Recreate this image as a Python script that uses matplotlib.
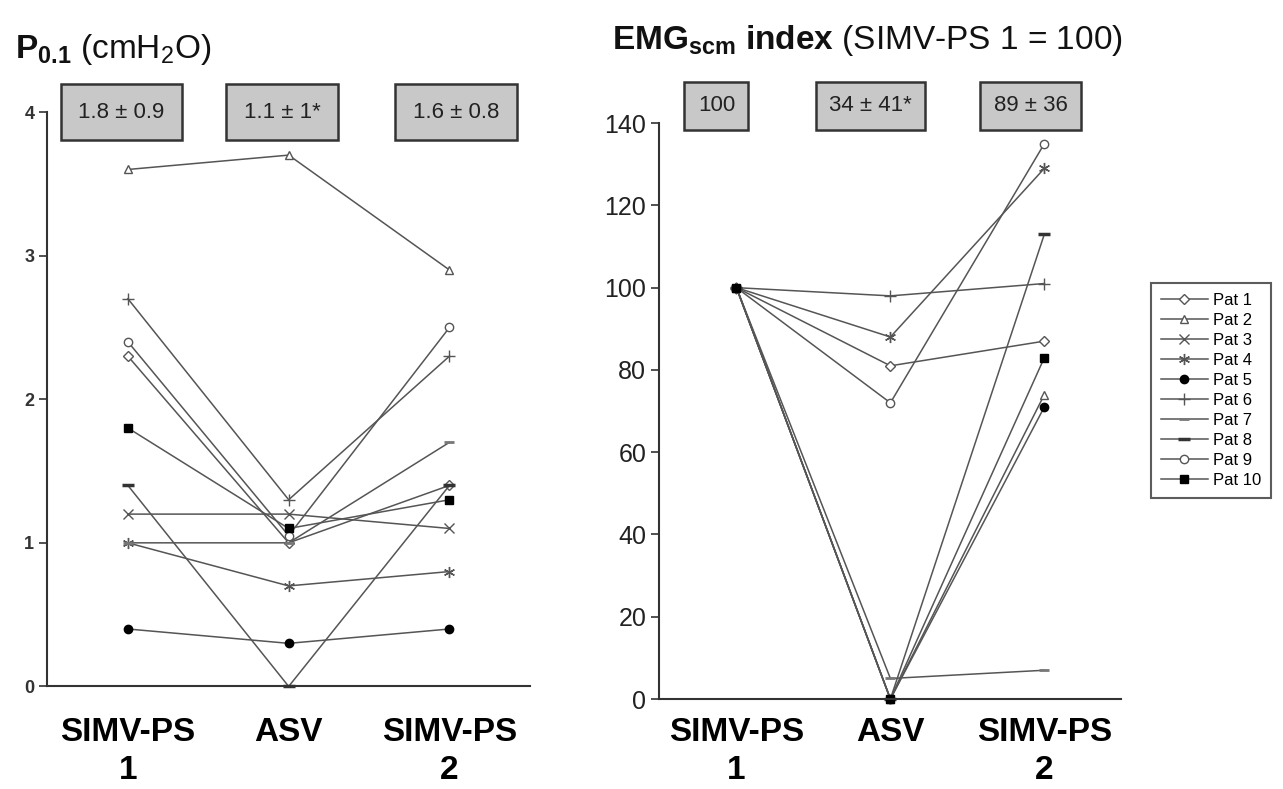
import matplotlib
matplotlib.use('Agg')
import numpy as np
import matplotlib.pyplot as plt
import matplotlib.transforms as mtransforms

plt.rcParams['font.family'] = 'Liberation Sans'
plt.rcParams['mathtext.fontset'] = 'custom'
plt.rcParams['mathtext.rm'] = 'Liberation Sans'
plt.rcParams['mathtext.bf'] = 'Liberation Sans:bold'
plt.rcParams['mathtext.it'] = 'Liberation Sans:italic'

# Data
phases = ['SIMV-PS\n1', 'ASV', 'SIMV-PS\n2']
patients = ['Pat 1', 'Pat 2', 'Pat 3', 'Pat 4', 'Pat 5',
            'Pat 6', 'Pat 7', 'Pat 8', 'Pat 9', 'Pat 10']

p01 = {
    'Pat 1': [2.3, 1.0, 1.4],
    'Pat 2': [3.6, 3.7, 2.9],
    'Pat 3': [1.2, 1.2, 1.1],
    'Pat 4': [1.0, 0.7, 0.8],
    'Pat 5': [0.4, 0.3, 0.4],
    'Pat 6': [2.7, 1.3, 2.3],
    'Pat 7': [1.0, 1.0, 1.7],
    'Pat 8': [1.4, 0.0, 1.4],
    'Pat 9': [2.4, 1.05, 2.5],
    'Pat 10': [1.8, 1.1, 1.3],
}
emg = {
    'Pat 1': [100, 81, 87],
    'Pat 2': [100, 0, 74],
    'Pat 3': [np.nan, np.nan, np.nan],
    'Pat 4': [100, 88, 129],
    'Pat 5': [100, 0, 71],
    'Pat 6': [100, 98, 101],
    'Pat 7': [100, 5, 7],
    'Pat 8': [100, 0, 113],
    'Pat 9': [100, 72, 135],
    'Pat 10': [100, 0, 83],
}
p01_summary = ['1.8 \u00b1 0.9', '1.1 \u00b1 1*', '1.6 \u00b1 0.8']
emg_summary = ['100', '34 \u00b1 41*', '89 \u00b1 36']

# Marker styles per patient
line_c = '#555555'
styles = {
    'Pat 1': dict(marker='D', ms=5, mfc='white', mec=line_c),
    'Pat 2': dict(marker='^', ms=6, mfc='white', mec=line_c),
    'Pat 3': dict(marker='x', ms=7, mec=line_c),
    'Pat 4': dict(marker=(6, 2, 0), ms=8, mec=line_c),
    'Pat 5': dict(marker='o', ms=6, mfc='black', mec='black'),
    'Pat 6': dict(marker='+', ms=9, mec=line_c),
    'Pat 7': dict(marker='_', ms=7, mec='#777777', mew=2),
    'Pat 8': dict(marker='_', ms=9, mec='#333333', mew=2.5),
    'Pat 9': dict(marker='o', ms=6, mfc='white', mec=line_c),
    'Pat 10': dict(marker='s', ms=6, mfc='black', mec='black'),
}

fig = plt.figure(figsize=(12.83, 7.89), dpi=100)
ax1 = fig.add_axes([0.037, 0.130, 0.376, 0.728])
ax2 = fig.add_axes([0.514, 0.114, 0.360, 0.730])

x = np.arange(len(phases))
handles = []
for pat in patients:
    h, = ax1.plot(x, p01[pat], '-', color=line_c, lw=1.1, clip_on=False,
                  label=pat, **styles[pat])
    ax2.plot(x, emg[pat], '-', color=line_c, lw=1.1, clip_on=False, **styles[pat])
    handles.append(h)

for ax, pad in ((ax1, 22), (ax2, 13)):
    ax.set_xlim(-0.5, 2.5)
    ax.spines['top'].set_visible(False)
    ax.spines['right'].set_visible(False)
    ax.spines['left'].set_linewidth(1.5)
    ax.spines['bottom'].set_linewidth(1.5)
    ax.spines['left'].set_color('#333333')
    ax.spines['bottom'].set_color('#333333')
    ax.set_xticks(x)
    ax.set_xticklabels(phases, fontsize=24, fontweight='bold', linespacing=1.3)
    ax.tick_params(axis='x', length=0, pad=pad)
    ax.tick_params(axis='y', direction='out', length=6, width=1.2, color='#333333')

ax1.set_ylim(0, 4)
ax1.set_yticks([0, 1, 2, 3, 4])
for lbl in ax1.get_yticklabels():
    lbl.set_fontsize(13)
    lbl.set_fontweight('bold')
    lbl.set_color('#333333')

ax2.set_ylim(0, 140)
ax2.set_yticks(np.arange(0, 141, 20))
for lbl in ax2.get_yticklabels():
    lbl.set_fontsize(18)
    lbl.set_color('#222222')

# Summary boxes
box = dict(boxstyle='square,pad=0.8', facecolor='#c8c8c8', edgecolor='#333333', lw=1.8)
tr1 = mtransforms.blended_transform_factory(ax1.transData, ax1.transAxes)
for xi, s in zip([-0.04, 0.96, 2.04], p01_summary):
    ax1.text(xi, 1.0, s, transform=tr1, ha='center', va='center', fontsize=16,
             color='#222222', bbox=box, clip_on=False)
box2 = dict(boxstyle='square,pad=0.6', facecolor='#c8c8c8', edgecolor='#333333', lw=1.8)
tr2 = mtransforms.blended_transform_factory(ax2.transData, ax2.transAxes)
for xi, s in zip([-0.13, 0.87, 1.91], emg_summary):
    ax2.text(xi, 1.03, s, transform=tr2, ha='center', va='center', fontsize=16,
             color='#222222', bbox=box2, clip_on=False)

# Titles
fig.text(0.012, 0.937, r'$\mathbf{P_{0.1}}$ (cmH$_2$O)', fontsize=24,
         ha='left', va='center', color='#111111')
fig.text(0.477, 0.949, r'$\mathbf{EMG_{scm}\ index}$ (SIMV-PS 1 = 100)', fontsize=24,
         ha='left', va='center', color='#111111')

# Legend
leg = fig.legend(handles=handles, loc='upper right', bbox_to_anchor=(0.997, 0.652),
                 fontsize=12, labelspacing=0.3, handlelength=2.8, handletextpad=0.3,
                 borderpad=0.6, fancybox=False, frameon=True)
leg.get_frame().set_edgecolor('#333333')
leg.get_frame().set_linewidth(1.5)

fig.savefig('out.png', dpi=100)
